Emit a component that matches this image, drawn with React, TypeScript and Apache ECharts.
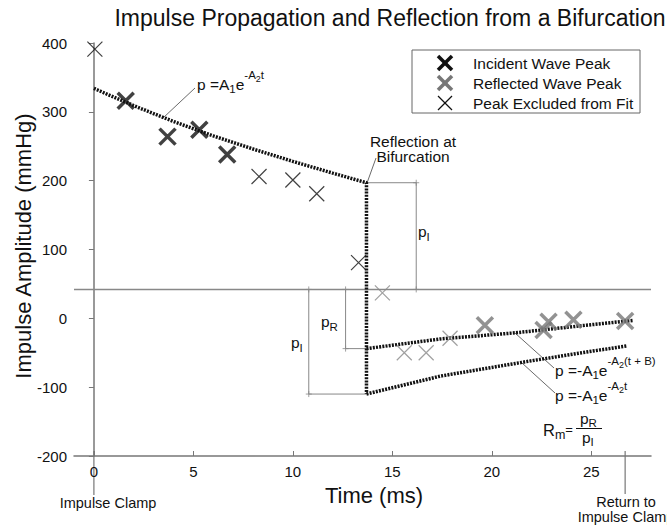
import React, { useEffect, useRef } from "react";
import * as echarts from "echarts";

// ---- data ----
const xTicks = [0, 5, 10, 15, 20, 25];
const incidentT = [1.6, 3.7, 5.3, 6.7];
const incidentP = [316, 264, 274, 238];
const reflectedT = [19.65, 22.6, 22.85, 24.1, 26.7];
const reflectedP = [-10, -17, -5, -2, -4];
const excludedT = [0.05, 8.3, 10.0, 11.2, 13.3];
const excludedP = [391, 206, 201, 181, 81];
const reflExcludedT = [14.5, 15.6, 16.7, 17.9];
const reflExcludedP = [37, -50, -50, -29];
// fitted curves
const incidentFitT = [0, 2, 4, 6, 8, 10, 12, 13.7, 13.7];
const incidentFitP = [334, 309, 286, 265, 246, 228, 211, 197, -110];
const invertedFitT = [13.7, 17.4, 21.5, 24.75, 26.8];
const invertedFitP = [-110, -84, -64, -49, -40];
const reflectedFitT = [13.7, 17.4, 21.2, 24.75, 27.1];
const reflectedFitP = [-44, -30, -21, -10, -3];
const baselineP = 42;
const baselineT = [-1, 28];
const clampT = 0;
const returnT = 26.7;
// dimension lines [t1, p1, t2, p2]
const dimSegments = [
  [13.7, 197, 16.2, 197],
  [16.2, 197, 16.2, 42],
  [10.8, 42, 10.8, -110],
  [10.8, -110, 13.7, -110],
  [12.65, 42, 12.65, -44],
  [12.65, -44, 13.7, -44],
];
const dimEndMarks = [
  [16.2, 197], [16.2, 42], [10.8, 42], [10.8, -110], [12.65, 42], [12.65, -44],
];

const FONT = '"Liberation Sans", Arial, Helvetica, sans-serif';
const XPATH = "path://M0,0L10,10M10,0L0,10";
const PLUS = "path://M0,5L10,5M5,0L5,10";

const zip = (a: number[], b: number[]) => a.map((v, i) => [v, b[i]]);

let ctx: CanvasRenderingContext2D | null = null;
function measure(t: string, size: number) {
  if (!ctx) ctx = document.createElement("canvas").getContext("2d");
  if (!ctx) return t.length * size * 0.55;
  ctx.font = `${size}px ${FONT}`;
  return ctx.measureText(t).width;
}

type Part = { t: string; s: number; dy: number };
function formula(parts: Part[], x: number, y: number, color = "#111") {
  const els: any[] = [];
  let cx = x;
  for (const p of parts) {
    els.push({
      type: "text",
      x: cx,
      y: y + p.dy,
      silent: true,
      style: { text: p.t, fontSize: p.s, fontFamily: FONT, fill: color, align: "left", verticalAlign: "middle" },
    });
    cx += measure(p.t, p.s);
  }
  return els;
}

function txt(text: string, x: number, y: number, size: number, align = "center", extra: any = {}, styleExtra: any = {}) {
  return {
    type: "text",
    x,
    y,
    silent: true,
    ...extra,
    style: { text, fontSize: size, fontFamily: FONT, fill: "#111", align, verticalAlign: "middle", ...styleExtra },
  };
}

function seg(x1: number, y1: number, x2: number, y2: number, color = "#555", w = 1) {
  return { type: "line", silent: true, shape: { x1, y1, x2, y2 }, style: { stroke: color, lineWidth: w } };
}

function xMark(cx: number, cy: number, r: number, color: string, w: number) {
  return [seg(cx - r, cy - r, cx + r, cy + r, color, w), seg(cx - r, cy + r, cx + r, cy - r, color, w)];
}

export default function App() {
  const ref = useRef<HTMLDivElement>(null);
  useEffect(() => {
    document.body.style.margin = "0";
    if (!ref.current) return;
    const chart = echarts.init(ref.current, undefined, { renderer: "svg" });

    const M = 15.5; // main annotation font
    const S = 11.5; // sub/superscript
    const SS = 9; // second level

    const expo = (lead: string, tail: string): Part[] => [
      { t: lead, s: M, dy: 0 },
      { t: "1", s: S, dy: 5 },
      { t: "e", s: M, dy: 0 },
      { t: "-A", s: S, dy: -9 },
      { t: "2", s: SS, dy: -5 },
      { t: tail, s: S, dy: -9 },
    ];

    const graphic: any[] = [
      // title
      txt("Impulse Propagation and Reflection from a Bifurcation", 390, 18, 23),
      // y title
      txt("Impulse Amplitude (mmHg)", 23, 246, 22, "center", { rotation: Math.PI / 2 }),
      // x title
      txt("Time (ms)", 374, 495, 22),
      // legend
      {
        type: "rect",
        silent: true,
        shape: { x: 412, y: 50, width: 228, height: 63 },
        style: { fill: "#fff", stroke: "#666", lineWidth: 1 },
      },
      ...xMark(445, 63, 7, "#111", 3.5),
      ...xMark(445, 83, 7, "#777", 3.5),
      ...xMark(445, 103, 7, "#111", 1.2),
      txt("Incident Wave Peak", 473, 63, M, "left"),
      txt("Reflected Wave Peak", 473, 83, M, "left"),
      txt("Peak Excluded from Fit", 473, 103, M, "left"),
      // incident fit formula + leader
      seg(163, 118, 195, 88, "#444", 0.8),
      ...formula(expo("p =A", "t"), 197, 84),
      // reflection annotation
      seg(367, 183, 376, 158, "#444", 0.8),
      txt("Reflection at\nBifurcation", 413, 149, M, "center", {}, { lineHeight: 15.5 }),
      // dimension labels
      ...formula([{ t: "p", s: M, dy: 0 }, { t: "I", s: S, dy: 6 }], 418, 231),
      ...formula([{ t: "p", s: M, dy: 0 }, { t: "I", s: S, dy: 6 }], 291, 342),
      ...formula([{ t: "p", s: M, dy: 0 }, { t: "R", s: S, dy: 6 }], 321, 321),
      // reflected formulas + leaders
      seg(515, 333, 554, 368, "#444", 0.8),
      ...formula(expo("p =-A", "(t + B)"), 555, 370),
      seg(522, 363, 555, 393, "#444", 0.8),
      ...formula(expo("p =-A", "t"), 555, 395),
      // Rm = pR / pI
      ...formula(
        [
          { t: "R", s: M + 1, dy: 0 },
          { t: "m", s: S + 1, dy: 5 },
          { t: "=", s: 13, dy: -1 },
        ],
        543,
        430
      ),
      seg(576, 428.5, 602, 428.5, "#111", 1),
      ...formula([{ t: "p", s: M, dy: 0 }, { t: "R", s: S, dy: 5 }], 580, 418),
      ...formula([{ t: "p", s: M, dy: 0 }, { t: "I", s: S, dy: 5 }], 582, 437),
      // bottom annotations
      txt("Impulse Clamp", 108, 503, 14.5),
      txt("Return to", 626, 502, 14.5),
      txt("Impulse Clamp", 626, 517, 14.5),
    ];

    const dimSeries = dimSegments.map((s) => ({
      type: "line",
      data: [
        [s[0], s[1]],
        [s[2], s[3]],
      ],
      symbol: "none",
      silent: true,
      lineStyle: { color: "#888", width: 1 },
      z: 1,
    }));

    const scatter = (t: number[], p: number[], color: string, w: number, size: number, name: string) => ({
      type: "scatter",
      name,
      data: zip(t, p),
      symbol: XPATH,
      symbolSize: size,
      silent: true,
      itemStyle: { color: "transparent", borderColor: color, borderWidth: w },
      z: 5,
    });

    const fitStyle = { color: "#111", width: 3.5, type: [2, 1.2] as any };

    chart.setOption({
      animation: false,
      grid: { left: 74, right: 16, top: 43, bottom: 69, containLabel: false },
      xAxis: {
        type: "value",
        min: -1,
        max: 28,
        axisLine: { onZero: false, lineStyle: { color: "#777", width: 1.5 } },
        axisTick: { inside: true, length: 5, customValues: xTicks, lineStyle: { color: "#777", width: 1 } },
        axisLabel: { customValues: xTicks, fontSize: 15, color: "#111", fontFamily: FONT, margin: 8 },
        splitLine: { show: false },
      },
      yAxis: {
        type: "value",
        min: -200,
        max: 400,
        interval: 100,
        axisLine: { show: true, lineStyle: { color: "#777", width: 1.5 } },
        axisTick: { show: true, length: 5, lineStyle: { color: "#777", width: 1 } },
        axisLabel: { fontSize: 15, color: "#111", fontFamily: FONT, margin: 7 },
        splitLine: { show: false },
      },
      series: [
        {
          type: "line",
          data: zip(baselineT, [baselineP, baselineP]),
          symbol: "none",
          silent: true,
          lineStyle: { color: "#888", width: 1.5 },
          z: 1,
        },
        ...dimSeries,
        {
          type: "scatter",
          data: dimEndMarks,
          symbol: PLUS,
          symbolSize: 6,
          silent: true,
          itemStyle: { color: "transparent", borderColor: "#888", borderWidth: 1 },
          z: 2,
        },
        { type: "line", data: zip(incidentFitT, incidentFitP), symbol: "none", silent: true, lineStyle: fitStyle, z: 3 },
        { type: "line", data: zip(invertedFitT, invertedFitP), symbol: "none", silent: true, lineStyle: fitStyle, z: 3 },
        { type: "line", data: zip(reflectedFitT, reflectedFitP), symbol: "none", silent: true, lineStyle: fitStyle, z: 3 },
        scatter(incidentT, incidentP, "#111", 3.5, 16, "Incident Wave Peak"),
        scatter(reflectedT, reflectedP, "#777", 3.5, 16, "Reflected Wave Peak"),
        scatter(excludedT, excludedP, "#111", 1.2, 15, "Peak Excluded from Fit"),
        scatter(reflExcludedT, reflExcludedP, "#888", 1.2, 15, "Reflected Peak Excluded"),
      ],
    });

    // clamp markers anchored to the x axis scale
    const p0 = chart.convertToPixel({ xAxisIndex: 0 }, clampT) as number;
    const pr = chart.convertToPixel({ xAxisIndex: 0 }, returnT) as number;
    graphic.push(seg(p0, 451, p0, 495, "#777", 1.2));
    graphic.push(seg(pr, 451, pr, 494, "#777", 1.2));

    chart.setOption({ graphic });

    return () => chart.dispose();
  }, []);
  return <div ref={ref} style={{ width: 667, height: 525 }} />;
}
